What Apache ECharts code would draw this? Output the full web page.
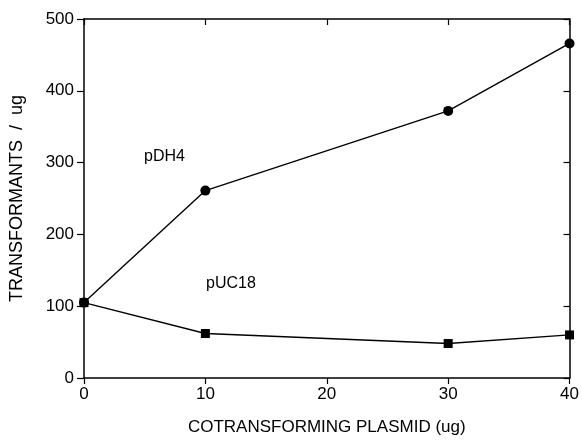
<!DOCTYPE html>
<html>
<head>
<meta charset="utf-8">
<script src="https://cdn.jsdelivr.net/npm/echarts@6/dist/echarts.min.js"></script>
<style>
  html, body { margin: 0; padding: 0; background: #fff; }
  #chart { width: 582px; height: 441px; }
</style>
</head>
<body>
<div id="chart"></div>
<script>
// data
const plasmidUg = [0, 10, 30, 40];
const pDH4 = [105, 261, 372, 466];
const pUC18 = [105, 62, 48, 60];
const xTicks = [0, 10, 20, 30, 40];
const yTicks = [0, 100, 200, 300, 400, 500];

const chart = echarts.init(document.getElementById('chart'));
const font = 'Liberation Sans, Arial, sans-serif';
const black = '#000';

function pairs(xs, ys) {
  return xs.map((x, i) => [x, ys[i]]);
}

const option = {
  animation: false,
  grid: { left: 83, right: 10, top: 19, bottom: 62 },
  xAxis: [{
    type: 'value',
    min: 0, max: 40, interval: 10,
    name: 'COTRANSFORMING PLASMID (ug)',
    nameLocation: 'middle',
    nameGap: 41,
    nameTextStyle: { color: black, fontSize: 17, fontFamily: font },
    axisLine: { onZero: false, lineStyle: { color: black, width: 1.5 } },
    axisTick: { length: 6, lineStyle: { color: black, width: 1.2 } },
    axisLabel: {
      color: black, fontSize: 17, fontFamily: font, margin: 8,
      formatter: v => xTicks.includes(v) ? String(v) : ''
    },
    splitLine: { show: false }
  }, {
    type: 'value',
    position: 'top',
    min: 0, max: 40, interval: 10,
    axisLine: { show: true, onZero: false, lineStyle: { color: black, width: 1.5 } },
    axisTick: { show: true, inside: true, length: 6, lineStyle: { color: black, width: 1.2 } },
    axisLabel: { show: false },
    splitLine: { show: false }
  }],
  yAxis: [{
    type: 'value',
    min: 0, max: 500, interval: 100,
    name: 'TRANSFORMANTS  /  ug',
    nameLocation: 'middle',
    nameGap: 58,
    nameTextStyle: { color: black, fontSize: 18, fontFamily: font },
    axisLine: { show: true, onZero: false, lineStyle: { color: black, width: 1.5 } },
    axisTick: { show: true, length: 7, lineStyle: { color: black, width: 1.2 } },
    axisLabel: {
      color: black, fontSize: 17, fontFamily: font, margin: 10,
      formatter: v => yTicks.includes(v) ? String(v) : ''
    },
    splitLine: { show: false }
  }, {
    type: 'value',
    position: 'right',
    min: 0, max: 500, interval: 100,
    axisLine: { show: true, onZero: false, lineStyle: { color: black, width: 1.5 } },
    axisTick: { show: true, inside: true, length: 6, lineStyle: { color: black, width: 1.2 } },
    axisLabel: { show: false },
    splitLine: { show: false }
  }],
  series: [{
    name: 'pDH4',
    type: 'line',
    data: pairs(plasmidUg, pDH4),
    symbol: 'circle',
    symbolSize: 10,
    lineStyle: { color: black, width: 1.4 },
    itemStyle: { color: black },
    clip: false,
    z: 3
  }, {
    name: 'pUC18',
    type: 'line',
    data: pairs(plasmidUg, pUC18),
    symbol: 'rect',
    symbolSize: 9,
    lineStyle: { color: black, width: 1.4 },
    itemStyle: { color: black },
    clip: false,
    z: 4
  }],
  graphic: [{
    type: 'text', left: 144, top: 149,
    style: { text: 'pDH4', fill: black, fontSize: 16, fontFamily: font }
  }, {
    type: 'text', left: 206, top: 276,
    style: { text: 'pUC18', fill: black, fontSize: 16, fontFamily: font }
  }]
};

chart.setOption(option);
</script>
</body>
</html>
